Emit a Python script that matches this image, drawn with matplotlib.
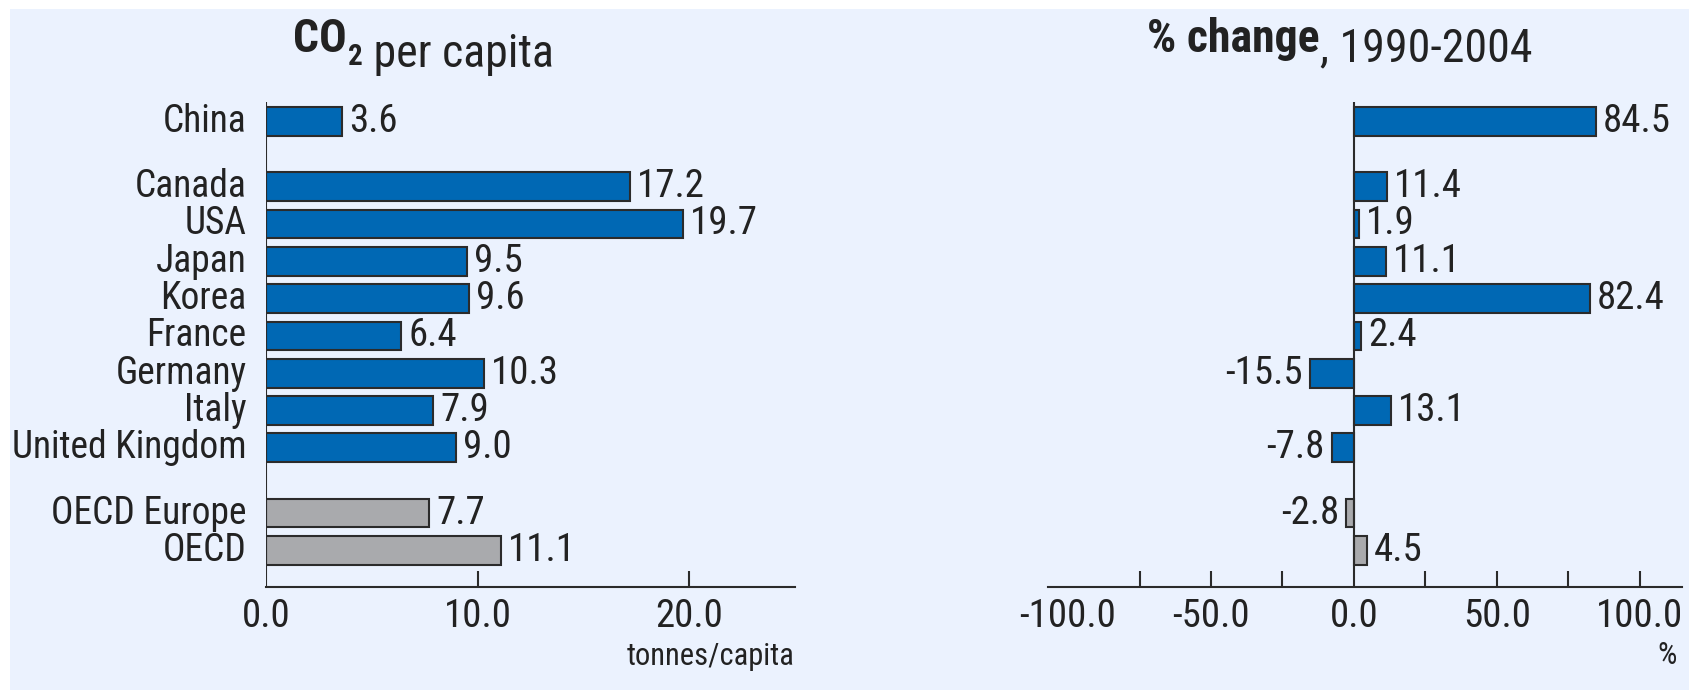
import numpy as np
import matplotlib
matplotlib.use("Agg")
import matplotlib.pyplot as plt
from matplotlib.patches import Rectangle

plt.rcParams['font.family'] = ['Roboto Condensed', 'Archivo Narrow',
                               'IBM Plex Sans Condensed', 'DejaVu Sans']

### data

countries = ['China', 'Canada', 'USA', 'Japan', 'Korea', 'France', 'Germany',
             'Italy', 'United Kingdom', 'OECD Europe', 'OECD']
per_capita = [3.6, 17.2, 19.7, 9.5, 9.6, 6.4, 10.3, 7.9, 9.0, 7.7, 11.1]
pct_change = [84.5, 11.4, 1.9, 11.1, 82.4, 2.4, -15.5, 13.1, -7.8, -2.8, 4.5]
group_sizes = [1, 8, 2]          # China | G7 + Korea | OECD aggregates
group_colors = ['#0068B4', '#0068B4', '#A9AAAD']

left_ticks = [10, 20]
left_labels = [0, 10, 20]
right_ticks = [-75, -50, -25, 25, 50, 75, 100]
right_labels = [-100, -50, 0, 50, 100]

### layout helpers

GAP = 0.75
ypos, colors = [], []
y = 0.0
for size, col in zip(group_sizes, group_colors):
    for i in range(size):
        ypos.append(y)
        colors.append(col)
        y += 1
    y += GAP
ypos = np.array(ypos)

BG = '#EBF2FE'
EDGE = '#2B2B2B'
TXT = '#222222'
FS_NAME = 27
FS_NUM = 28
FS_TITLE = 33

W, H = 1689, 690
fig = plt.figure(figsize=(W / 100, H / 100), dpi=100)
fig.patch.set_facecolor('white')
fig.patches.append(Rectangle((10 / W, 0), 1 - 10 / W, (H - 9) / H,
                             transform=fig.transFigure, facecolor=BG,
                             edgecolor='none', zorder=-10))

ax_bot, ax_top = 587, 102
axL = fig.add_axes([266 / W, (H - ax_bot) / H, (795 - 266) / W, (ax_bot - ax_top) / H])
axR = fig.add_axes([1048 / W, (H - ax_bot) / H, (1682 - 1048) / W, (ax_bot - ax_top) / H])


def style_axis(ax, xlim, ticks, labels):
    ax.set_facecolor('none')
    ax.set_xlim(xlim)
    ax.set_ylim(ypos[-1] + 0.98, -0.52)
    for s in ['top', 'right', 'left']:
        ax.spines[s].set_visible(False)
    ax.spines['bottom'].set_linewidth(1.5)
    ax.spines['bottom'].set_color(EDGE)
    ax.axvline(0, color=EDGE, lw=1.5, zorder=3)
    ax.xaxis.remove_overlapping_locs = False
    ax.set_xticks(ticks)
    ax.set_xticklabels([])
    ax.set_xticks(labels, minor=True)
    ax.set_xticklabels(['%.1f' % v for v in labels], minor=True)
    ax.tick_params(axis='x', which='major', direction='in', length=11.5,
                   width=1.5, color=EDGE)
    ax.tick_params(axis='x', which='minor', length=0, pad=8,
                   labelsize=FS_NUM, labelcolor=TXT)
    ax.set_yticks([])


def draw_bars(ax, values):
    ax.barh(ypos, values, height=0.77, color=colors, edgecolor=EDGE,
            linewidth=1.5, zorder=2)
    for yy, v in zip(ypos, values):
        off = 5 if v >= 0 else -5
        ax.annotate('%.1f' % v, xy=(v, yy), xytext=(off, 0),
                    textcoords='offset points', ha='left' if v >= 0 else 'right',
                    va='center', fontsize=FS_NUM, color=TXT)


style_axis(axL, (0, 25), left_ticks, left_labels)
draw_bars(axL, per_capita)
for yy, name in zip(ypos, countries):
    axL.annotate(name, xy=(0, yy), xytext=(-14, 0), textcoords='offset points',
                 ha='right', va='center', fontsize=FS_NAME, color=TXT)
axL.annotate('tonnes/capita', xy=(1, 0), xycoords='axes fraction',
             xytext=(0, -50), textcoords='offset points', ha='right',
             va='center', fontsize=22, color=TXT)

style_axis(axR, (-107, 114.7), right_ticks, right_labels)
draw_bars(axR, pct_change)
axR.annotate('%', xy=(1, 0), xycoords='axes fraction',
             xytext=(-4, -49), textcoords='offset points', ha='right',
             va='center', fontsize=22, color=TXT)

# titles, built from bold and regular pieces
t1 = fig.text(293 / W, (H - 52) / H, 'CO', fontsize=FS_TITLE, weight='bold',
              color=TXT, va='baseline', ha='left')
sub = fig.add_artist(plt.Annotation('2', xy=(1, 0), xycoords=t1,
                                    xytext=(1, -3), textcoords='offset points',
                                    fontsize=21, weight='bold', color=TXT,
                                    ha='left', va='baseline'))
fig.add_artist(plt.Annotation(' per capita', xy=(1, 0), xycoords=sub,
                              xytext=(0, 3), textcoords='offset points',
                              fontsize=FS_TITLE, color=TXT, ha='left',
                              va='baseline'))

r1 = fig.text(1147 / W, (H - 52) / H, '% change', fontsize=FS_TITLE,
              weight='bold', color=TXT, va='baseline', ha='left')
fig.add_artist(plt.Annotation(', 1990-2004', xy=(1, 0), xycoords=r1,
                              xytext=(0, 0), textcoords='offset points',
                              fontsize=FS_TITLE, color=TXT, ha='left',
                              va='baseline'))

fig.savefig('out.png', dpi=100)
